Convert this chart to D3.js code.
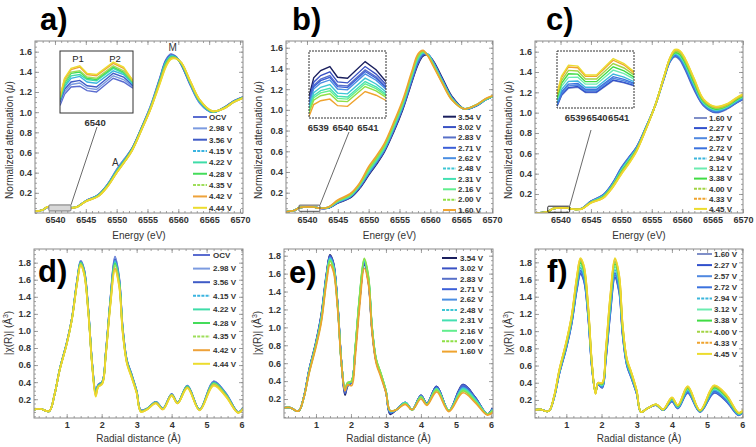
<!DOCTYPE html>
<html><head><meta charset="utf-8">
<script src="https://cdn.jsdelivr.net/npm/d3@7"></script>
<style>body{margin:0;background:#fff}svg text{font-family:"Liberation Sans",Arial,sans-serif}</style>
</head><body><script>
// ---------------- XANES (top row) ----------------
const energyGrid = [6535.5,6538,6538.7,6539.5,6541,6542.2,6543.5,6545,6547,6548.5,6550,6551.2,6552.5,6554,6555.5,6557,6558,6558.8,6559.6,6560.5,6562,6563.5,6565.5,6567.5,6569,6570.5];
const energyTicks = [6540,6545,6550,6555,6560,6565,6570];
const muTicks = [0.2,0.4,0.6,0.8,1.0,1.2,1.4,1.6];

const seriesA = ["OCV","2.98 V","3.56 V","4.15 V","4.22 V","4.28 V","4.35 V","4.42 V","4.44 V"];
const colorsA = ["#5a6cd0","#7c9be0","#3f5bc6","#3ab4e0","#3fdca8","#44dc5a","#9ede5a","#eea23a","#ecdc2e"];
const dashedA = [0,0,0,1,0,0,1,0,0];
const muA = [
 [0.01,0.03,0.055,0.06,0.06,0.05,0.06,0.12,0.18,0.28,0.43,0.53,0.64,0.84,1.06,1.34,1.52,1.575,1.55,1.47,1.26,1.09,1.00,1.05,1.11,1.15],
 [0.01,0.03,0.055,0.06,0.06,0.05,0.06,0.12,0.18,0.28,0.43,0.53,0.64,0.84,1.06,1.33,1.51,1.57,1.55,1.47,1.27,1.09,1.00,1.05,1.11,1.15],
 [0.01,0.03,0.056,0.061,0.061,0.05,0.06,0.12,0.18,0.28,0.42,0.52,0.64,0.84,1.05,1.33,1.51,1.565,1.55,1.47,1.27,1.10,1.00,1.05,1.11,1.15],
 [0.01,0.03,0.056,0.062,0.062,0.051,0.059,0.118,0.175,0.275,0.42,0.52,0.63,0.83,1.05,1.32,1.50,1.56,1.545,1.48,1.28,1.10,1.00,1.045,1.105,1.145],
 [0.01,0.03,0.057,0.063,0.063,0.051,0.059,0.117,0.175,0.27,0.41,0.51,0.63,0.83,1.04,1.31,1.49,1.55,1.54,1.48,1.28,1.11,1.005,1.045,1.105,1.145],
 [0.01,0.03,0.057,0.064,0.064,0.052,0.058,0.116,0.17,0.27,0.41,0.51,0.63,0.83,1.04,1.31,1.48,1.545,1.54,1.48,1.29,1.11,1.005,1.045,1.10,1.145],
 [0.01,0.03,0.058,0.064,0.065,0.052,0.058,0.116,0.17,0.265,0.40,0.50,0.62,0.82,1.04,1.30,1.47,1.54,1.535,1.49,1.29,1.115,1.01,1.04,1.10,1.14],
 [0.01,0.03,0.058,0.065,0.066,0.052,0.058,0.115,0.165,0.26,0.40,0.50,0.62,0.82,1.03,1.29,1.46,1.53,1.535,1.49,1.30,1.12,1.01,1.04,1.10,1.14],
 [0.01,0.03,0.058,0.066,0.066,0.052,0.058,0.115,0.165,0.26,0.40,0.50,0.62,0.82,1.03,1.28,1.45,1.525,1.53,1.49,1.30,1.12,1.01,1.04,1.10,1.14]
];

const seriesB = ["3.54 V","3.02 V","2.83 V","2.71 V","2.62 V","2.48 V","2.31 V","2.16 V","2.00 V","1.60 V"];
const colorsB = ["#1a1f5e","#3a52c4","#5870c8","#3b5fd8","#4a8ee2","#3ec6d4","#44e0b2","#62ee8e","#8ee046","#efa32e"];
const dashedB = [0,0,0,0,0,1,0,0,1,0];
const muB = [
 [0.01,0.03,0.055,0.062,0.062,0.05,0.052,0.10,0.15,0.24,0.37,0.47,0.59,0.78,1.00,1.27,1.44,1.52,1.53,1.47,1.30,1.13,1.01,1.04,1.10,1.14],
 [0.01,0.03,0.055,0.062,0.062,0.05,0.053,0.103,0.155,0.245,0.38,0.48,0.60,0.79,1.01,1.28,1.45,1.53,1.535,1.46,1.29,1.12,1.01,1.04,1.10,1.14],
 [0.01,0.03,0.055,0.062,0.062,0.05,0.054,0.106,0.16,0.25,0.385,0.485,0.605,0.80,1.02,1.29,1.46,1.535,1.535,1.46,1.28,1.12,1.01,1.045,1.10,1.14],
 [0.01,0.03,0.055,0.062,0.062,0.05,0.055,0.108,0.16,0.255,0.39,0.49,0.61,0.805,1.025,1.30,1.47,1.54,1.535,1.455,1.28,1.115,1.01,1.045,1.10,1.14],
 [0.01,0.03,0.055,0.062,0.062,0.05,0.056,0.11,0.165,0.26,0.395,0.495,0.615,0.81,1.03,1.31,1.48,1.545,1.535,1.45,1.275,1.11,1.01,1.045,1.10,1.14],
 [0.01,0.03,0.055,0.062,0.062,0.05,0.057,0.113,0.165,0.265,0.40,0.50,0.62,0.82,1.04,1.32,1.49,1.55,1.535,1.445,1.27,1.11,1.01,1.045,1.10,1.14],
 [0.01,0.03,0.055,0.062,0.062,0.05,0.058,0.116,0.17,0.27,0.41,0.51,0.63,0.83,1.05,1.33,1.50,1.555,1.53,1.44,1.265,1.105,1.01,1.05,1.105,1.14],
 [0.01,0.03,0.055,0.062,0.062,0.05,0.059,0.119,0.175,0.275,0.42,0.52,0.64,0.84,1.06,1.34,1.51,1.56,1.53,1.435,1.26,1.10,1.01,1.05,1.105,1.14],
 [0.01,0.03,0.055,0.062,0.062,0.05,0.06,0.122,0.18,0.28,0.43,0.53,0.65,0.85,1.07,1.35,1.52,1.565,1.525,1.43,1.255,1.10,1.01,1.05,1.105,1.145],
 [0.01,0.03,0.055,0.062,0.062,0.05,0.062,0.13,0.19,0.29,0.45,0.55,0.67,0.87,1.09,1.37,1.54,1.575,1.52,1.42,1.25,1.095,1.01,1.05,1.11,1.145]
];

const seriesC = ["1.60 V","2.27 V","2.57 V","2.72 V","2.94 V","3.12 V","3.38 V","4.00 V","4.33 V","4.45 V"];
const colorsC = ["#7f8fc8","#3050cc","#5088e0","#3b72de","#3cb6dc","#6cecb0","#40dc44","#a2d444","#efa32e","#ecdc2e"];
const dashedC = [0,0,0,0,1,0,0,1,1,0];
const muC = [
 [0.01,0.028,0.055,0.062,0.062,0.05,0.058,0.13,0.19,0.30,0.46,0.56,0.66,0.85,1.06,1.33,1.50,1.55,1.52,1.42,1.22,1.07,1.00,1.04,1.10,1.14],
 [0.01,0.028,0.055,0.062,0.062,0.05,0.058,0.128,0.19,0.30,0.455,0.555,0.66,0.85,1.06,1.335,1.505,1.555,1.53,1.43,1.23,1.075,1.005,1.045,1.10,1.145],
 [0.01,0.028,0.055,0.062,0.062,0.05,0.057,0.126,0.185,0.295,0.45,0.55,0.655,0.85,1.06,1.34,1.51,1.56,1.535,1.44,1.24,1.08,1.01,1.05,1.105,1.15],
 [0.01,0.028,0.055,0.062,0.062,0.05,0.057,0.124,0.185,0.29,0.445,0.545,0.65,0.845,1.06,1.34,1.515,1.565,1.54,1.45,1.25,1.085,1.015,1.05,1.11,1.155],
 [0.01,0.028,0.055,0.062,0.062,0.05,0.056,0.122,0.18,0.285,0.44,0.54,0.645,0.845,1.06,1.345,1.52,1.575,1.55,1.46,1.26,1.09,1.02,1.055,1.115,1.16],
 [0.01,0.028,0.055,0.062,0.062,0.05,0.056,0.12,0.175,0.28,0.43,0.53,0.64,0.84,1.06,1.345,1.525,1.585,1.565,1.48,1.28,1.10,1.03,1.065,1.125,1.17],
 [0.01,0.028,0.055,0.062,0.062,0.05,0.055,0.118,0.17,0.275,0.42,0.52,0.635,0.84,1.06,1.35,1.53,1.59,1.575,1.49,1.29,1.11,1.035,1.07,1.13,1.175],
 [0.01,0.028,0.055,0.062,0.062,0.05,0.055,0.116,0.165,0.27,0.41,0.51,0.63,0.835,1.06,1.35,1.535,1.60,1.59,1.51,1.31,1.12,1.045,1.075,1.14,1.18],
 [0.01,0.028,0.055,0.062,0.062,0.05,0.054,0.114,0.16,0.26,0.40,0.50,0.625,0.83,1.06,1.35,1.54,1.615,1.605,1.525,1.325,1.13,1.055,1.085,1.145,1.19],
 [0.01,0.028,0.055,0.062,0.062,0.05,0.054,0.112,0.16,0.26,0.395,0.495,0.62,0.83,1.06,1.35,1.54,1.62,1.61,1.53,1.33,1.135,1.06,1.09,1.15,1.195]
];

// ---------------- pre-edge insets ----------------
const insetEA = [6538.53,6538.72,6539.0,6539.37,6539.68,6540.08,6540.79,6541.23,6541.63];
const insetEB = [6538.65,6538.84,6539.12,6539.49,6539.80,6540.2,6540.91,6541.35,6541.75];
const insetEC = [6538.18,6538.39,6538.71,6539.14,6539.49,6540.0,6540.77,6541.27,6541.73];
const insetTicksA = [6540];
const insetTicksBC = [6539,6540,6541];
const insetA = [
 [0.036,0.045,0.051,0.0516,0.048,0.047,0.058,0.055,0.050],
 [0.038,0.047,0.053,0.0542,0.050,0.049,0.060,0.057,0.051],
 [0.039,0.049,0.055,0.0563,0.052,0.051,0.062,0.059,0.052],
 [0.040,0.051,0.058,0.0595,0.055,0.054,0.064,0.061,0.053],
 [0.041,0.052,0.060,0.061,0.057,0.056,0.066,0.062,0.054],
 [0.041,0.054,0.062,0.063,0.058,0.057,0.067,0.063,0.055],
 [0.042,0.055,0.063,0.064,0.059,0.058,0.068,0.064,0.055],
 [0.043,0.057,0.065,0.067,0.061,0.060,0.070,0.066,0.056],
 [0.043,0.058,0.066,0.068,0.062,0.061,0.071,0.067,0.056]
];
const insetB = [
 [0.046,0.060,0.0654,0.0684,0.0604,0.0597,0.0721,0.066,0.0572],
 [0.0435,0.0567,0.0617,0.0644,0.0569,0.0562,0.0684,0.0628,0.0549],
 [0.0419,0.0544,0.0591,0.0616,0.0545,0.0539,0.0659,0.0607,0.0533],
 [0.0411,0.0534,0.0579,0.0603,0.0534,0.0527,0.0647,0.0597,0.0525],
 [0.0399,0.0517,0.0561,0.0584,0.0516,0.0510,0.0629,0.0582,0.0514],
 [0.0378,0.0489,0.0529,0.0549,0.0486,0.0480,0.0597,0.0554,0.0494],
 [0.0361,0.0466,0.0504,0.0522,0.0462,0.0457,0.0572,0.0533,0.0478],
 [0.0350,0.0451,0.0487,0.0503,0.0446,0.0441,0.0555,0.0519,0.0467],
 [0.0337,0.0433,0.0466,0.0481,0.0427,0.0422,0.0535,0.0502,0.0454],
 [0.0312,0.040,0.0429,0.0441,0.0392,0.0387,0.0498,0.047,0.0431]
];
const insetC = [
 [0.0314,0.041,0.0473,0.0482,0.0436,0.0436,0.054,0.052,0.0494],
 [0.0318,0.0415,0.0479,0.0488,0.0441,0.0441,0.0546,0.0525,0.0498],
 [0.0326,0.0428,0.0494,0.0501,0.0452,0.0452,0.0560,0.0538,0.0507],
 [0.0335,0.0441,0.0510,0.0515,0.0464,0.0464,0.0575,0.0551,0.0516],
 [0.0349,0.0461,0.0534,0.0537,0.0482,0.0482,0.0598,0.0571,0.0531],
 [0.0369,0.0491,0.0569,0.0570,0.0509,0.0509,0.0632,0.0601,0.0553],
 [0.0386,0.0516,0.0600,0.0597,0.0531,0.0531,0.0661,0.0626,0.0571],
 [0.0404,0.0541,0.0630,0.0625,0.0554,0.0554,0.0690,0.0651,0.0590],
 [0.0421,0.0567,0.0660,0.0653,0.0577,0.0577,0.0719,0.0677,0.0608],
 [0.043,0.058,0.0676,0.0667,0.0589,0.0589,0.0734,0.069,0.0618]
];

// ---------------- EXAFS (bottom row) ----------------
const radialGrid = [0.05,0.25,0.5,0.65,0.8,1.0,1.15,1.3,1.4,1.5,1.62,1.73,1.83,1.9,2.02,2.12,2.25,2.38,2.5,2.6,2.72,2.85,3.0,3.12,3.3,3.55,3.75,4.0,4.17,4.45,4.8,5.2,5.55,5.9,6.05];
const radialTicks = [1,2,3,4,5,6];
const chiTicks = [0.2,0.4,0.6,0.8,1.0,1.2,1.4,1.6,1.8];
// rows = radial grid points, columns = series (same order as legend)
const chiD = [
 [0.075,0.075,0.075,0.075,0.075,0.075,0.075,0.075,0.075],
 [0.088,0.088,0.088,0.088,0.088,0.088,0.088,0.088,0.088],
 [0.06,0.06,0.06,0.06,0.06,0.06,0.06,0.06,0.06],
 [0.25,0.25,0.25,0.25,0.25,0.25,0.25,0.25,0.25],
 [0.55,0.55,0.55,0.55,0.545,0.545,0.545,0.54,0.54],
 [0.86,0.86,0.86,0.855,0.85,0.85,0.85,0.845,0.84],
 [1.15,1.15,1.15,1.145,1.14,1.14,1.14,1.135,1.13],
 [1.6,1.6,1.595,1.59,1.58,1.58,1.575,1.565,1.56],
 [1.82,1.82,1.81,1.805,1.80,1.795,1.79,1.775,1.77],
 [1.72,1.715,1.71,1.70,1.695,1.69,1.68,1.665,1.66],
 [1.25,1.25,1.24,1.235,1.23,1.225,1.22,1.205,1.2],
 [0.62,0.62,0.615,0.61,0.60,0.60,0.595,0.585,0.58],
 [0.30,0.295,0.29,0.28,0.27,0.265,0.255,0.24,0.23],
 [0.37,0.37,0.365,0.36,0.36,0.355,0.35,0.345,0.34],
 [0.41,0.41,0.405,0.40,0.40,0.395,0.39,0.385,0.38],
 [0.76,0.76,0.755,0.75,0.74,0.74,0.735,0.725,0.72],
 [1.38,1.375,1.37,1.36,1.35,1.34,1.33,1.31,1.30],
 [1.87,1.86,1.84,1.82,1.80,1.79,1.77,1.73,1.71],
 [1.63,1.62,1.61,1.60,1.58,1.575,1.56,1.53,1.52],
 [1.05,1.045,1.04,1.03,1.02,1.015,1.005,0.99,0.98],
 [0.66,0.66,0.655,0.65,0.64,0.64,0.635,0.625,0.62],
 [0.50,0.50,0.495,0.49,0.48,0.48,0.475,0.465,0.46],
 [0.30,0.30,0.295,0.29,0.29,0.285,0.28,0.275,0.27],
 [0.07,0.07,0.07,0.065,0.06,0.06,0.06,0.055,0.05],
 [0.09,0.09,0.09,0.09,0.085,0.085,0.085,0.08,0.08],
 [0.17,0.17,0.17,0.165,0.16,0.16,0.16,0.155,0.15],
 [0.09,0.09,0.09,0.09,0.085,0.085,0.085,0.08,0.08],
 [0.26,0.26,0.26,0.255,0.25,0.25,0.25,0.245,0.24],
 [0.16,0.16,0.16,0.16,0.155,0.155,0.155,0.15,0.15],
 [0.36,0.36,0.355,0.35,0.35,0.345,0.34,0.335,0.33],
 [0.08,0.08,0.08,0.08,0.075,0.075,0.075,0.07,0.07],
 [0.41,0.41,0.40,0.395,0.39,0.385,0.38,0.365,0.36],
 [0.27,0.27,0.265,0.26,0.25,0.25,0.245,0.235,0.23],
 [0.05,0.05,0.05,0.05,0.045,0.045,0.045,0.04,0.04],
 [0.10,0.10,0.10,0.10,0.095,0.095,0.095,0.09,0.09]
];
const chiE = [
 [0.1,0.1,0.1,0.1,0.1,0.1,0.1,0.1,0.1,0.1],
 [0.105,0.105,0.105,0.105,0.105,0.105,0.105,0.105,0.105,0.105],
 [0.065,0.065,0.065,0.065,0.065,0.065,0.065,0.065,0.065,0.065],
 [0.22,0.22,0.22,0.22,0.215,0.215,0.215,0.215,0.21,0.21],
 [0.52,0.52,0.51,0.51,0.51,0.50,0.50,0.49,0.49,0.48],
 [0.84,0.83,0.83,0.82,0.82,0.81,0.81,0.80,0.80,0.78],
 [1.14,1.13,1.12,1.12,1.11,1.10,1.09,1.08,1.07,1.05],
 [1.6,1.59,1.58,1.58,1.57,1.56,1.55,1.54,1.53,1.5],
 [1.81,1.80,1.79,1.79,1.78,1.77,1.76,1.75,1.74,1.70],
 [1.72,1.71,1.70,1.70,1.69,1.68,1.67,1.66,1.65,1.62],
 [1.26,1.26,1.25,1.25,1.25,1.24,1.24,1.23,1.23,1.2],
 [0.6,0.6,0.6,0.6,0.6,0.59,0.59,0.59,0.59,0.58],
 [0.245,0.26,0.27,0.28,0.29,0.3,0.31,0.32,0.32,0.29],
 [0.34,0.35,0.35,0.36,0.36,0.37,0.37,0.38,0.38,0.36],
 [0.39,0.39,0.39,0.39,0.4,0.4,0.4,0.4,0.4,0.35],
 [0.72,0.73,0.73,0.74,0.74,0.75,0.75,0.76,0.76,0.66],
 [1.3,1.31,1.31,1.32,1.33,1.34,1.35,1.36,1.36,1.24],
 [1.70,1.71,1.72,1.72,1.73,1.74,1.75,1.76,1.77,1.66],
 [1.5,1.51,1.52,1.52,1.53,1.54,1.55,1.56,1.57,1.48],
 [0.98,0.99,0.99,1.0,1.0,1.01,1.01,1.02,1.02,0.96],
 [0.62,0.62,0.63,0.63,0.63,0.64,0.64,0.64,0.65,0.6],
 [0.47,0.47,0.47,0.48,0.48,0.48,0.49,0.49,0.49,0.45],
 [0.28,0.28,0.28,0.28,0.29,0.29,0.29,0.29,0.29,0.27],
 [0.03,0.04,0.05,0.05,0.06,0.06,0.07,0.07,0.07,0.07],
 [0.08,0.08,0.08,0.08,0.08,0.08,0.08,0.08,0.08,0.08],
 [0.16,0.16,0.16,0.16,0.16,0.16,0.16,0.15,0.15,0.14],
 [0.08,0.08,0.08,0.08,0.08,0.08,0.08,0.08,0.08,0.08],
 [0.24,0.24,0.24,0.23,0.23,0.23,0.22,0.22,0.22,0.2],
 [0.15,0.15,0.15,0.15,0.14,0.14,0.14,0.14,0.14,0.13],
 [0.34,0.34,0.33,0.33,0.32,0.32,0.31,0.31,0.30,0.28],
 [0.07,0.07,0.07,0.07,0.07,0.07,0.07,0.07,0.07,0.06],
 [0.36,0.36,0.35,0.34,0.33,0.32,0.31,0.30,0.29,0.27],
 [0.22,0.22,0.21,0.21,0.2,0.2,0.19,0.18,0.17,0.16],
 [0.03,0.03,0.03,0.03,0.03,0.03,0.03,0.03,0.03,0.02],
 [0.1,0.1,0.09,0.09,0.09,0.08,0.08,0.07,0.07,0.05]
];
const chiF = [
 [0.08,0.08,0.08,0.08,0.08,0.08,0.08,0.08,0.08,0.08],
 [0.09,0.09,0.09,0.09,0.09,0.09,0.09,0.09,0.09,0.09],
 [0.07,0.07,0.07,0.07,0.07,0.07,0.07,0.07,0.07,0.07],
 [0.22,0.22,0.223,0.225,0.228,0.231,0.234,0.236,0.239,0.24],
 [0.5,0.503,0.508,0.513,0.52,0.528,0.535,0.541,0.548,0.55],
 [0.8,0.804,0.812,0.82,0.832,0.844,0.856,0.866,0.876,0.88],
 [1.08,1.085,1.095,1.105,1.12,1.135,1.15,1.162,1.175,1.18],
 [1.48,1.488,1.504,1.52,1.544,1.568,1.592,1.611,1.632,1.64],
 [1.66,1.67,1.689,1.708,1.736,1.765,1.793,1.816,1.84,1.85],
 [1.58,1.589,1.607,1.625,1.652,1.679,1.706,1.728,1.751,1.76],
 [1.16,1.167,1.181,1.195,1.216,1.237,1.258,1.275,1.293,1.3],
 [0.56,0.563,0.569,0.575,0.584,0.593,0.602,0.609,0.617,0.62],
 [0.3,0.299,0.296,0.293,0.288,0.284,0.279,0.275,0.272,0.27],
 [0.38,0.381,0.383,0.385,0.388,0.391,0.394,0.396,0.399,0.4],
 [0.34,0.343,0.349,0.355,0.364,0.373,0.382,0.389,0.397,0.4],
 [0.65,0.657,0.67,0.683,0.702,0.722,0.741,0.757,0.774,0.78],
 [1.2,1.211,1.233,1.255,1.288,1.321,1.354,1.38,1.409,1.42],
 [1.62,1.632,1.655,1.678,1.712,1.747,1.781,1.809,1.839,1.85],
 [1.45,1.461,1.482,1.503,1.534,1.566,1.597,1.622,1.65,1.66],
 [0.95,0.957,0.97,0.983,1.002,1.022,1.041,1.057,1.074,1.08],
 [0.6,0.604,0.612,0.62,0.632,0.644,0.656,0.666,0.676,0.68],
 [0.45,0.454,0.461,0.468,0.478,0.489,0.499,0.507,0.517,0.52],
 [0.27,0.272,0.276,0.28,0.286,0.292,0.298,0.303,0.308,0.31],
 [0.06,0.06,0.06,0.06,0.06,0.06,0.06,0.06,0.06,0.06],
 [0.1,0.1,0.1,0.1,0.1,0.1,0.1,0.1,0.1,0.1],
 [0.14,0.14,0.142,0.143,0.144,0.146,0.147,0.148,0.15,0.15],
 [0.08,0.08,0.082,0.083,0.084,0.086,0.087,0.088,0.09,0.09],
 [0.18,0.183,0.188,0.193,0.2,0.208,0.215,0.221,0.228,0.23],
 [0.1,0.102,0.106,0.11,0.116,0.122,0.128,0.133,0.138,0.14],
 [0.28,0.284,0.292,0.3,0.312,0.324,0.336,0.346,0.356,0.36],
 [0.06,0.061,0.063,0.065,0.068,0.071,0.074,0.076,0.079,0.08],
 [0.28,0.285,0.294,0.303,0.316,0.33,0.343,0.354,0.366,0.37],
 [0.18,0.184,0.192,0.2,0.212,0.224,0.236,0.246,0.256,0.26],
 [0.02,0.022,0.025,0.028,0.032,0.037,0.041,0.045,0.049,0.05],
 [0.08,0.08,0.082,0.083,0.084,0.086,0.087,0.088,0.09,0.09]
];

// ---------------- drawing ----------------
const W = 756, H = 447;
const svg = d3.select("body").append("svg").attr("width", W).attr("height", H);
const FONT = '"Liberation Sans", Arial, sans-serif';
const frameCol = "#8a8a8a";

function seriesPoints(grid, vals) { return grid.map((g, j) => [g, vals[j]]); }

function drawPanel(p) {
  const x = d3.scaleLinear().domain(p.xDomain).range([p.L, p.R]);
  const y = d3.scaleLinear().domain(p.yDomain).range([p.B, p.T]);
  const g = svg.append("g");
  const cid = "clip-" + p.id;
  svg.append("clipPath").attr("id", cid).append("rect")
    .attr("x", p.L).attr("y", p.T).attr("width", p.R - p.L).attr("height", p.B - p.T);

  const styleTicks = s => { s.select(".domain").remove(); s.selectAll("line").attr("stroke", frameCol).attr("stroke-width", 0.8); };
  const [xa, xb] = p.xDomain, [ya, yb] = p.yDomain;
  const xMinor = d3.range(Math.ceil(xa / p.xMinorStep) * p.xMinorStep, xb, p.xMinorStep);
  const yMinor = d3.range(Math.ceil(ya / p.yMinorStep) * p.yMinorStep, yb, p.yMinorStep);
  [[d3.axisBottom(x), `translate(0,${p.B})`, xMinor], [d3.axisTop(x), `translate(0,${p.T})`, xMinor],
   [d3.axisLeft(y), `translate(${p.L},0)`, yMinor], [d3.axisRight(y), `translate(${p.R},0)`, yMinor]]
   .forEach(([ax, tr, mv]) => g.append("g").attr("transform", tr).call(ax.tickValues(mv).tickSize(-2).tickFormat("")).call(styleTicks));
  const xt = g.append("g").attr("transform", `translate(0,${p.B})`)
    .call(d3.axisBottom(x).tickValues(p.xTicks).tickSize(-4).tickPadding(4).tickFormat(p.xFmt)).call(styleTicks);
  g.append("g").attr("transform", `translate(0,${p.T})`).call(d3.axisTop(x).tickValues(p.xTicks).tickSize(-4).tickFormat("")).call(styleTicks);
  const yt = g.append("g").attr("transform", `translate(${p.L},0)`)
    .call(d3.axisLeft(y).tickValues(p.yTicks).tickSize(-4).tickPadding(3).tickFormat(d3.format(".1f"))).call(styleTicks);
  g.append("g").attr("transform", `translate(${p.R},0)`).call(d3.axisRight(y).tickValues(p.yTicks).tickSize(-4).tickFormat("")).call(styleTicks);
  [xt, yt].forEach(a => a.selectAll("text").attr("font-family", FONT).attr("font-size", 9).attr("font-weight", "bold").attr("fill", "#333"));

  const line = d3.line().x(d => x(d[0])).y(d => y(d[1])).curve(d3.curveCatmullRom.alpha(0.5));
  const cg = g.append("g").attr("clip-path", `url(#${cid})`);
  p.names.forEach((n, i) => {
    cg.append("path").datum(seriesPoints(p.grid, p.values(i)))
      .attr("fill", "none").attr("stroke", p.colors[i]).attr("stroke-width", 1.7)
      .attr("d", line);
  });

  g.append("rect").attr("x", p.L).attr("y", p.T).attr("width", p.R - p.L).attr("height", p.B - p.T)
    .attr("fill", "none").attr("stroke", frameCol).attr("stroke-width", 1);

  g.append("text").attr("x", (p.L + p.R) / 2).attr("y", p.xLabelY).attr("text-anchor", "middle")
    .attr("font-size", 10).attr("fill", "#333").text(p.xLabel);
  const yl = g.append("text").attr("transform", `translate(${p.yLabelX},${p.yLabelY}) rotate(-90)`)
    .attr("text-anchor", "middle").attr("font-size", 10).attr("fill", "#333");
  p.yLabel(yl);

  const lg = g.append("g");
  p.names.forEach((n, i) => {
    const yy = p.leg.y0 + i * p.leg.dy;
    lg.append("line").attr("x1", p.leg.x1).attr("x2", p.leg.x2).attr("y1", yy).attr("y2", yy)
      .attr("stroke", p.colors[i]).attr("stroke-width", 2)
      .attr("stroke-dasharray", p.dashed[i] ? "3,1.2" : null);
    lg.append("text").attr("x", p.leg.tx).attr("y", yy).attr("dy", "0.35em")
      .attr("font-size", 8).attr("font-weight", "bold").attr("fill", "#333").text(n);
  });

  g.append("text").attr("x", p.letter[0]).attr("y", p.letter[1]).attr("font-size", 31)
    .attr("font-weight", "bold").attr("fill", "#000").text(p.letter[2]);

  return { x, y, g };
}

function drawInset(P, s) {
  const { x, y, g } = P;
  g.append("rect").attr("x", x(s.mark[0])).attr("y", y(s.mark[3]))
    .attr("width", x(s.mark[1]) - x(s.mark[0])).attr("height", y(s.mark[2]) - y(s.mark[3]))
    .attr("fill", s.markFill).attr("stroke", s.markStroke).attr("stroke-width", 1).attr("rx", 1);
  g.append("line").attr("x1", s.lead[0]).attr("y1", s.lead[1])
    .attr("x2", x(s.mark[1])).attr("y2", y(s.mark[3]))
    .attr("stroke", "#444").attr("stroke-width", 0.8);
  const ix = d3.scaleLinear().domain(s.xDomain).range([s.L, s.R]);
  const iy = d3.scaleLinear().domain([0.030, 0.080]).range([s.B, s.T]);
  const cid = "iclip-" + s.id;
  svg.append("clipPath").attr("id", cid).append("rect")
    .attr("x", s.L).attr("y", s.T).attr("width", s.R - s.L).attr("height", s.B - s.T);
  g.append("rect").attr("x", s.L).attr("y", s.T).attr("width", s.R - s.L).attr("height", s.B - s.T)
    .attr("fill", "#fff");
  const line = d3.line().x(d => ix(d[0])).y(d => iy(d[1]));
  const ig = g.append("g").attr("clip-path", `url(#${cid})`);
  s.values.forEach((v, i) => {
    ig.append("path").datum(seriesPoints(s.grid, v)).attr("fill", "none")
      .attr("stroke", s.colors[i]).attr("stroke-width", 1.4).attr("d", line);
  });
  g.append("rect").attr("x", s.L).attr("y", s.T).attr("width", s.R - s.L).attr("height", s.B - s.T)
    .attr("fill", "none").attr("stroke", "#333").attr("stroke-width", 1)
    .attr("stroke-dasharray", s.dash);
  const ax = g.append("g").attr("transform", `translate(0,${s.B})`)
    .call(d3.axisBottom(ix).tickValues(s.ticks).tickSize(0).tickPadding(6).tickFormat(d3.format("d")));
  ax.select(".domain").remove();
  ax.selectAll("text").attr("font-family", FONT).attr("font-size", s.fs).attr("font-weight", "bold").attr("fill", "#333");
}

function yLabelMu(t) {
  t.append("tspan").text("Normalized attenuation (");
  t.append("tspan").attr("font-style", "italic").text("μ");
  t.append("tspan").text(")");
}
function yLabelChi(t) {
  t.append("tspan").text("|χ(R)| (Å");
  t.append("tspan").attr("dy", -4).attr("font-size", 7).text("3");
  t.append("tspan").attr("dy", 4).text(")");
}

const topCommon = { T: 41, B: 213, xTicks: energyTicks, yTicks: muTicks, xMinorStep: 1, yMinorStep: 0.05,
  xFmt: d3.format("d"), grid: energyGrid, xLabel: "Energy (eV)", xLabelY: 239, yLabel: yLabelMu, yLabelY: 140 };
const botCommon = { T: 249, B: 418, xTicks: radialTicks, yTicks: chiTicks, xMinorStep: 0.2, yMinorStep: 0.05,
  xFmt: d3.format("d"), grid: radialGrid, xLabel: "Radial distance (Å)", xLabelY: 441.5, yLabel: yLabelChi, yLabelY: 333 };

const pa = drawPanel(Object.assign({}, topCommon, { id: "a", L: 35, R: 243, xDomain: [6536.76, 6570.49], yDomain: [0.0, 1.706],
  names: seriesA, colors: colorsA, dashed: dashedA, values: i => muA[i], yLabelX: 13,
  leg: { x1: 193, x2: 207, tx: 209, y0: 117, dy: 11.35 }, letter: [40, 30, "a)"] }));
const pb = drawPanel(Object.assign({}, topCommon, { id: "b", L: 286, R: 493, xDomain: [6536.6, 6570.16], yDomain: [0.004, 1.665],
  names: seriesB, colors: colorsB, dashed: dashedB, values: i => muB[i], yLabelX: 262,
  leg: { x1: 443, x2: 456, tx: 458, y0: 116.7, dy: 10.37 }, letter: [292, 30, "b)"] }));
const pc = drawPanel(Object.assign({}, topCommon, { id: "c", L: 535, R: 743, xDomain: [6535.8, 6570.0], yDomain: [0.013, 1.705],
  names: seriesC, colors: colorsC, dashed: dashedC, values: i => muC[i], yLabelX: 512,
  leg: { x1: 694, x2: 707, tx: 709, y0: 118, dy: 10.1 }, letter: [546, 30, "c)"] }));

drawPanel(Object.assign({}, botCommon, { id: "d", L: 34, R: 243, xDomain: [0.066, 6.04], yDomain: [-0.02, 1.96],
  names: seriesA, colors: colorsA, dashed: dashedA, values: i => chiD.map(r => r[i]), yLabelX: 12,
  leg: { x1: 193, x2: 210, tx: 213, y0: 255, dy: 13.6 }, letter: [38, 282, "d)"] }));
drawPanel(Object.assign({}, botCommon, { id: "e", L: 284, R: 493, xDomain: [0.086, 6.06], yDomain: [-0.012, 1.875],
  names: seriesB, colors: colorsB, dashed: dashedB, values: i => chiE.map(r => r[i]), yLabelX: 261,
  leg: { x1: 442, x2: 457, tx: 460, y0: 258, dy: 10.4 }, letter: [289, 283, "e)"] }));
drawPanel(Object.assign({}, botCommon, { id: "f", L: 535, R: 743, xDomain: [0.11, 6.02], yDomain: [-0.01, 1.955],
  names: seriesC, colors: colorsC, dashed: dashedC, values: i => chiF.map(r => r[i]), yLabelX: 512,
  leg: { x1: 697, x2: 712, tx: 714, y0: 254, dy: 11.1 }, letter: [547, 282, "f)"] }));

drawInset(pa, { id: "a", L: 60, R: 133, T: 51, B: 113, xDomain: [6538.53, 6541.63], grid: insetEA, values: insetA,
  colors: colorsA, dash: null, ticks: insetTicksA, fs: 9.5, mark: [6539.0, 6542.6, 0.02, 0.08],
  markFill: "#d8d8d8", markStroke: "#777", lead: [97, 127] });
drawInset(pb, { id: "b", L: 309, R: 386, T: 51, B: 118, xDomain: [6538.65, 6541.75], grid: insetEB, values: insetB,
  colors: colorsB, dash: "2,1", ticks: insetTicksBC, fs: 9.5, mark: [6538.7, 6542.1, 0.02, 0.08],
  markFill: "none", markStroke: "#555", lead: [349, 132] });
drawInset(pc, { id: "c", L: 557, R: 634, T: 51, B: 108, xDomain: [6538.18, 6541.73], grid: insetEC, values: insetC,
  colors: colorsC, dash: "2,1", ticks: insetTicksBC, fs: 9.5, mark: [6537.9, 6541.5, 0.02, 0.08],
  markFill: "none", markStroke: "#222", lead: [591, 130] });

pa.g.append("text").attr("x", pa.x(6559.1)).attr("y", 51).attr("text-anchor", "middle").attr("font-size", 10).attr("fill", "#333").text("M");
pa.g.append("text").attr("x", pa.x(6549.8)).attr("y", 166).attr("text-anchor", "middle").attr("font-size", 10).attr("fill", "#333").text("A");
pa.g.append("text").attr("x", 78).attr("y", 62).attr("text-anchor", "middle").attr("font-size", 9.5).attr("fill", "#222").text("P1");
pa.g.append("text").attr("x", 115).attr("y", 62).attr("text-anchor", "middle").attr("font-size", 9.5).attr("fill", "#222").text("P2");
</script></body></html>
